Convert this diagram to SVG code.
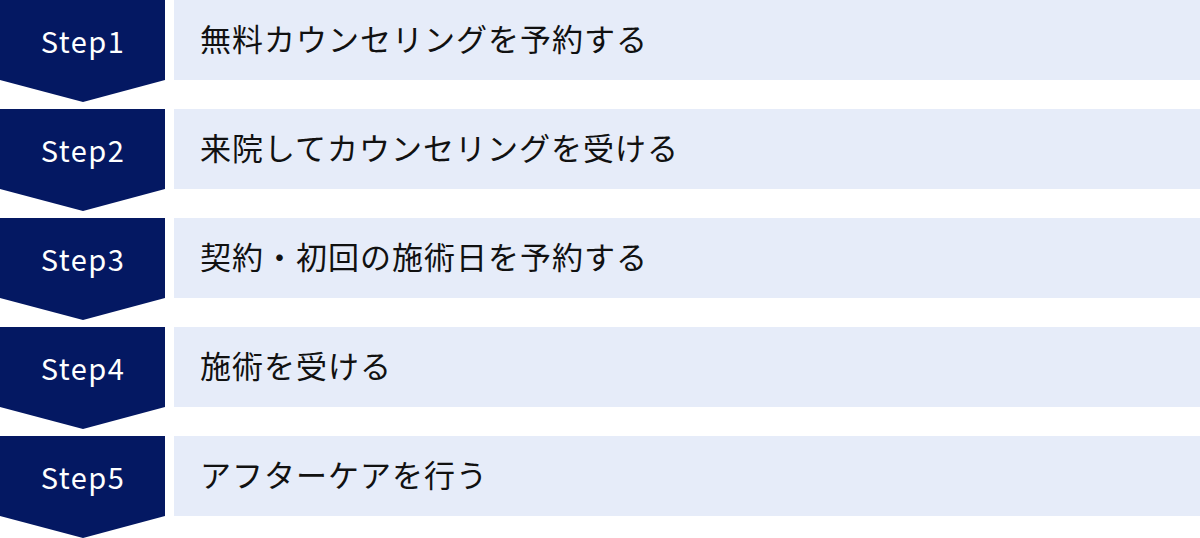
<svg xmlns="http://www.w3.org/2000/svg" width="1200" height="538" viewBox="0 0 1200 538">
<style>
.badge{fill:#041862}
.bar{fill:#E6ECF9}
.st{font-family:"Noto Sans CJK JP","Noto Sans",sans-serif;font-size:29px;fill:#ffffff;text-anchor:middle;letter-spacing:1.5px}
.lb{font-family:"Noto Sans CJK JP","Noto Sans",sans-serif;font-size:31px;fill:#111111;letter-spacing:1px}
</style>
<defs>
<path id="chev" d="M0 0H165V80L83 102L0 80Z"/>
</defs>
<g id="connectors"></g>
<g id="step1">
<use href="#chev" class="badge"/>
<rect class="bar" x="174" y="0" width="1026" height="80"/>
<text class="st" x="83" y="53">Step1</text>
<text class="lb" x="200" y="51">無料カウンセリングを予約する</text>
</g>
<g id="step2" transform="translate(0,109)">
<use href="#chev" class="badge"/>
<rect class="bar" x="174" y="0" width="1026" height="80"/>
<text class="st" x="83" y="53">Step2</text>
<text class="lb" x="200" y="51">来院してカウンセリングを受ける</text>
</g>
<g id="step3" transform="translate(0,218)">
<use href="#chev" class="badge"/>
<rect class="bar" x="174" y="0" width="1026" height="80"/>
<text class="st" x="83" y="53">Step3</text>
<text class="lb" x="200" y="51">契約・初回の施術日を予約する</text>
</g>
<g id="step4" transform="translate(0,327)">
<use href="#chev" class="badge"/>
<rect class="bar" x="174" y="0" width="1026" height="80"/>
<text class="st" x="83" y="53">Step4</text>
<text class="lb" x="200" y="51">施術を受ける</text>
</g>
<g id="step5" transform="translate(0,436)">
<use href="#chev" class="badge"/>
<rect class="bar" x="174" y="0" width="1026" height="80"/>
<text class="st" x="83" y="53">Step5</text>
<text class="lb" x="200" y="51">アフターケアを行う</text>
</g>
</svg>
